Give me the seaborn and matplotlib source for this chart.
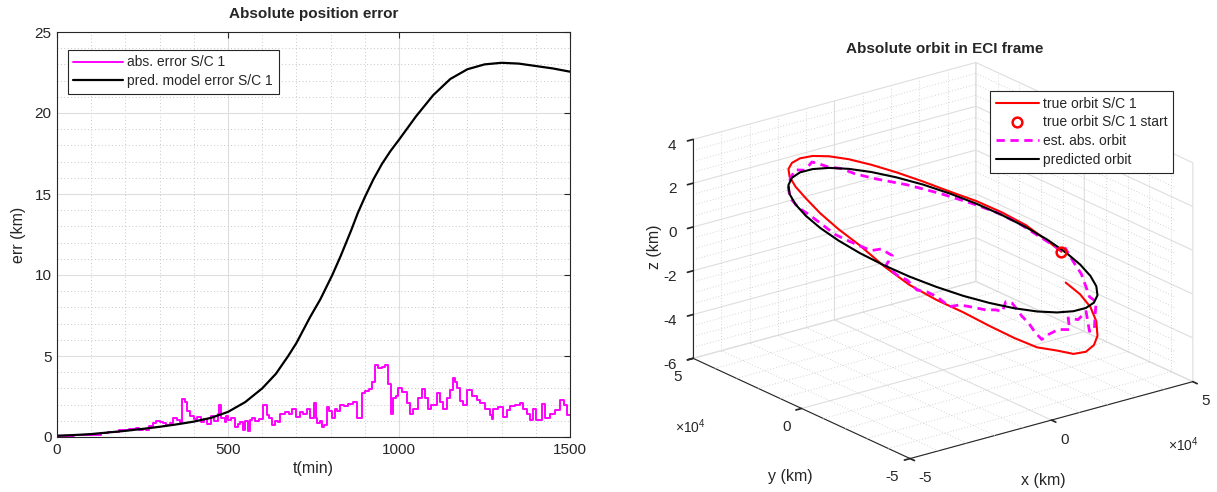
import numpy as np
import pandas as pd
import matplotlib
matplotlib.use("Agg")
import matplotlib.pyplot as plt
import seaborn as sns

# ---------------- left panel data ----------------
pred_t = [0, 50, 100, 150, 200, 250, 300, 350, 400, 450, 500, 550, 600, 640, 676,
          700, 740, 770, 805, 830, 860, 880, 900, 925, 950, 975, 1000, 1050, 1100, 1150,
          1200, 1250, 1300, 1350, 1400, 1450, 1500]
pred_err = [0.08, 0.12, 0.18, 0.28, 0.38, 0.50, 0.63, 0.78, 0.95, 1.18, 1.55, 2.15,
            3.0, 3.9, 5.0, 5.8, 7.4, 8.5, 10.0, 11.2, 12.75, 13.85, 14.8, 15.9, 16.85,
            17.65, 18.35, 19.8, 21.1, 22.1, 22.7, 23.0, 23.1, 23.05, 22.9, 22.75, 22.55]

abs_t = [0, 50, 100, 130, 150, 170, 180, 190, 200, 210, 220, 230, 240, 250, 260, 270,
         280, 290, 300, 310, 320, 330, 340, 350, 360, 365, 375, 380, 390, 400, 410,
         420, 430, 440, 450, 460, 470, 475, 480, 490, 495, 501, 510, 520, 528, 535,
         545, 550, 558, 563, 570, 580, 590, 603, 613, 620, 628, 637, 645, 652, 667,
         678, 686, 700, 710, 720, 730, 740, 750, 756, 760, 768, 774, 782, 789, 796,
         803, 813, 820, 827, 840, 852, 866, 876, 891, 901, 912, 920, 930, 940, 950,
         960, 969, 978, 983, 990, 998, 1008, 1022, 1032, 1042, 1056, 1066, 1076, 1086,
         1095, 1110, 1120, 1130, 1140, 1149, 1159, 1165, 1169, 1178, 1188, 1198, 1213,
         1227, 1237, 1251, 1266, 1271, 1276, 1290, 1305, 1315, 1325, 1339, 1354, 1364,
         1373, 1383, 1393, 1402, 1417, 1427, 1442, 1456, 1471, 1481, 1490, 1500]
abs_err = [0.05, 0.10, 0.15, 0.22, 0.28, 0.32, 0.42, 0.46, 0.44, 0.52, 0.48, 0.56, 0.45,
           0.52, 0.42, 0.66, 0.86, 0.96, 0.93, 0.84, 0.74, 0.86, 1.15, 1.05, 0.95, 2.35,
           2.15, 1.60, 1.30, 1.10, 1.22, 0.90, 1.10, 0.80, 1.30, 1.00, 1.40, 2.00, 1.20,
           0.90, 1.30, 1.05, 1.15, 0.60, 0.80, 0.95, 0.45, 1.00, 0.35, 1.05, 1.15, 1.00,
           1.10, 2.00, 1.35, 1.20, 0.75, 1.00, 0.90, 1.45, 1.55, 1.40, 1.75, 1.25, 1.55,
           1.45, 1.75, 1.15, 2.10, 1.15, 0.85, 1.00, 0.60, 0.75, 1.85, 1.60, 1.20, 1.75,
           1.60, 2.00, 1.90, 2.05, 2.15, 1.15, 2.70, 2.85, 2.95, 3.40, 4.45, 4.25, 4.35,
           4.45, 3.30, 1.45, 2.40, 2.55, 3.00, 2.80, 2.10, 1.45, 1.75, 2.40, 2.95, 2.40,
           1.75, 2.00, 2.70, 2.15, 1.75, 2.40, 2.90, 3.65, 3.40, 3.00, 2.20, 2.00, 2.90,
           2.55, 2.30, 2.10, 1.75, 1.35, 1.10, 1.75, 1.85, 1.25, 1.65, 1.90, 2.00, 2.10,
           1.75, 1.45, 1.05, 1.75, 1.05, 2.05, 1.15, 1.45, 1.65, 2.30, 2.00, 1.35, 1.35]

# ---------------- right panel data (km) ----------------
true_x = [43360, 42740, 40780, 37580, 33240, 27900, 21700, 14840, 7530, 0, -7530, -14840,
          -21700, -27900, -33240, -37580, -40780, -42740, -43400, -42740, -40780, -37580,
          -33240, -27900, -21700, -14840, -7530, 0, 7530, 14840, 21700, 27900, 33240,
          37580, 40780, 42740, 43400]
true_y = [1890, 7530, 14840, 21700, 27900, 33240, 37580, 40780, 42740, 43400, 42740, 40780,
          37580, 33240, 27900, 21700, 14840, 7530, 0, -7530, -14840, -21700, -27900,
          -33240, -37580, -40780, -42740, -43400, -42740, -40780, -37580, -33240, -27900,
          -21700, -14840, -7530, 0]
true_z = [-2.21, -1.95, -1.50, -1.12, -0.73, -0.35, 0.13, 0.64, 1.15, 1.64, 2.07, 2.43,
          2.71, 2.92, 3.07, 3.15, 3.13, 3.00, 2.68, 2.28, 1.80, 1.06, 0.33, -0.29, -0.88,
          -1.60, -2.32, -2.98, -3.42, -3.92, -4.21, -4.32, -4.33, -4.10, -3.88, -3.70,
          -3.53]

pred_x = [43400, 42740, 40780, 37580, 33240, 27900, 21700, 14840, 7530, 0, -7530, -14840,
          -21700, -27900, -33240, -37580, -40780, -42740, -43400, -42740, -40780, -37580,
          -33240, -27900, -21700, -14840, -7530, 0, 7530, 14840, 21700, 27900, 33240,
          37580, 40780, 42740, 43400]
pred_y = [0, 7530, 14840, 21700, 27900, 33240, 37580, 40780, 42740, 43400, 42740, 40780,
          37580, 33240, 27900, 21700, 14840, 7530, 0, -7530, -14840, -21700, -27900,
          -33240, -37580, -40780, -42740, -43400, -42740, -40780, -37580, -33240, -27900,
          -21700, -14840, -7530, 0]
pred_z = [-2.15, -1.90, -1.59, -1.24, -0.85, -0.44, -0.01, 0.41, 0.82, 1.20, 1.54, 1.83,
          2.07, 2.24, 2.34, 2.36, 2.32, 2.20, 2.01, 1.76, 1.45, 1.10, 0.71, 0.30, -0.13,
          -0.55, -0.96, -1.34, -1.68, -1.97, -2.21, -2.38, -2.48, -2.50, -2.46, -2.34,
          -2.15]

est_x = [43370, 42050, 39890, 37130, 32520, 25770, 17760, 8390, 1910, -2640, -7760, -11960,
         -15140, -18750, -25060, -29760, -34430, -38210, -41660, -43020, -43370, -42980,
         -41980, -39400, -38010, -36230, -37250, -35420, -33660, -31840, -29870, -27770,
         -26420, -24850, -22540, -20100, -15820, -13060, -11170, -10170, -8200, -5100,
         -2910, -630, 1680, 4170, 8030, 13100, 12320, 17170, 21840, 22960, 24130, 28320,
         29010, 37790, 41090, 41870, 42650, 43180, 43380, 43410]
est_y = [1900, 10740, 17050, 22500, 28770, 34940, 39610, 42580, 43340, 43330, 42720, 41730,
         40660, 39170, 35430, 31590, 26420, 20570, 12160, 5820, -700, -6030, -11010,
         -18190, -20950, -23900, -22240, -25130, -27400, -29510, -31510, -33340, -34430,
         -35590, -37080, -38460, -40440, -41400, -41930, -42200, -42620, -43080, -43290,
         -43390, -43360, -43190, -42650, -41400, -41620, -39870, -37490, -36820, -36080,
         -32890, -32270, -21340, -13970, -11390, -8160, -4470, -1940, 390]
est_z = [-2.15, -1.85, -1.48, -1.18, -0.86, -0.44, 0.02, 0.50, 0.92, 1.31, 1.59, 1.93,
         2.17, 1.99, 2.40, 2.35, 2.30, 2.25, 2.31, 2.35, 2.21, 1.99, 1.88, 1.67, 1.82,
         1.59, 1.10, 0.72, 0.54, 0.12, 0.06, -0.15, -0.37, -0.60, -0.54, -0.64, -0.85,
         -0.90, -1.02, -0.59, -0.71, -1.40, -1.77, -2.29, -2.68, -2.55, -2.48, -2.72,
         -2.15, -2.48, -2.38, -2.90, -3.43, -3.64, -3.10, -3.23, -3.46, -3.16, -2.73,
         -2.47, -2.22, -1.95]

xy_ticks = [-5e4, 0, 5e4]
xy_ticklabels = ["-5", "0", "5"]
z_ticks = [-6, -4, -2, 0, 2, 4]
z_ticklabels = ["-6", "-4", "-2", "0", "2", "4"]

# ---------------- style ----------------
sns.set_theme(style="white")
plt.rcParams["font.family"] = ["Liberation Sans", "DejaVu Sans"]
plt.rcParams["mathtext.fontset"] = "custom"
plt.rcParams["mathtext.rm"] = "Liberation Sans"
plt.rcParams["mathtext.it"] = "Liberation Sans:italic"
plt.rcParams["axes.unicode_minus"] = False

DARK = (0.15, 0.15, 0.15)
GRID = (0.87, 0.87, 0.87)
MINOR = (0.78, 0.78, 0.78)
MAG = (1.0, 0.0, 1.0)

fig = plt.figure(figsize=(12.17, 4.92), dpi=100)
fig.patch.set_facecolor("white")

# ---------------- left: absolute position error ----------------
ax1 = fig.add_axes([57 / 1217, 1 - 437 / 492, 513 / 1217, 405 / 492])
abs_df = pd.DataFrame({"t": abs_t, "err": abs_err})
pred_df = pd.DataFrame({"t": pred_t, "err": pred_err})
sns.lineplot(data=abs_df, x="t", y="err", ax=ax1, color=MAG, lw=1.4,
             drawstyle="steps-post", estimator=None, label="abs. error S/C 1")
sns.lineplot(data=pred_df, x="t", y="err", ax=ax1, color="black", lw=1.6,
             estimator=None, label="pred. model error S/C 1")
ax1.set_xlim(0, 1500)
ax1.set_ylim(0, 25)
ax1.set_xticks([0, 500, 1000, 1500])
ax1.set_yticks([0, 5, 10, 15, 20, 25])
ax1.set_xticks(np.arange(0, 1501, 100), minor=True)
ax1.set_yticks(np.arange(0, 26, 1), minor=True)
ax1.grid(which="major", color=GRID, lw=0.8, ls="-")
ax1.grid(which="minor", color=MINOR, lw=0.7, ls=(0, (1, 2.5)))
ax1.set_axisbelow(True)
ax1.tick_params(which="major", direction="in", top=True, right=True, length=4,
                width=0.8, color=DARK, labelcolor=DARK, labelsize=11, pad=4)
ax1.tick_params(which="minor", length=0)
for s in ax1.spines.values():
    s.set_color(DARK)
    s.set_linewidth(0.8)
ax1.set_xlabel("t(min)", fontsize=11.5, color=DARK, labelpad=3)
ax1.set_ylabel("err (km)", fontsize=11.5, color=DARK, labelpad=6)
ax1.set_title("Absolute position error", fontsize=11, fontweight="bold", pad=10)
leg1 = ax1.legend(loc="upper left", bbox_to_anchor=(0.021, 0.956), frameon=True,
                  fancybox=False, edgecolor=DARK, fontsize=10, handlelength=3.6,
                  borderaxespad=0, handletextpad=0.3, labelspacing=0.35, borderpad=0.4,
                  framealpha=1)
leg1.get_frame().set_linewidth(0.8)

# ---------------- right: orbit in 3D ----------------
ax2 = fig.add_axes([0.5723, -0.0305, 0.3944, 0.9756], projection="3d",
                   computed_zorder=False)
ax2.set_proj_type("ortho")
ax2.view_init(elev=20.76, azim=-127.5)
ax2.set_xlim(-5e4, 5e4)
ax2.set_ylim(-5e4, 5e4)
ax2.set_zlim(-6, 4)
ax2.set_box_aspect((1, 1, 0.657), zoom=1.124)
ax2.patch.set_alpha(0)

for axis in (ax2.xaxis, ax2.yaxis, ax2.zaxis):
    axis.set_pane_color((1, 1, 1, 0))
    axis.pane.set_edgecolor(GRID)
    axis.pane.set_linewidth(0.8)
    axis._axinfo["grid"].update(color=GRID, linewidth=0.8, linestyle="-")
    axis._axinfo["tick"].update(inward_factor=0.25, outward_factor=0.0)
    axis.line.set_color(DARK)
    axis.line.set_linewidth(0.8)

ax2.set_xticks(xy_ticks)
ax2.set_xticklabels(xy_ticklabels, ha="left")
ax2.set_yticks(xy_ticks)
ax2.set_yticklabels(xy_ticklabels, ha="right")
ax2.set_zticks(z_ticks)
ax2.set_zticklabels(z_ticklabels, ha="right")
ax2.tick_params(axis="x", labelcolor=DARK, labelsize=11, color=DARK, pad=-1)
ax2.tick_params(axis="y", labelcolor=DARK, labelsize=11, color=DARK, pad=-1)
ax2.tick_params(axis="z", labelcolor=DARK, labelsize=11, color=DARK, pad=-2)

# minor dotted grid on the three back walls
mxy = [v for v in np.arange(-4e4, 4.1e4, 1e4) if abs(v) > 1]
mz = [v for v in np.arange(-5.5, 4.0, 0.5) if (v % 2) != 0]
gkw = dict(color=MINOR, lw=0.6, ls=(0, (1, 2.5)), zorder=1)
for v in mxy:
    ax2.plot([v, v], [5e4, 5e4], [-6, 4], **gkw)       # wall y = +5e4
    ax2.plot([5e4, 5e4], [v, v], [-6, 4], **gkw)       # wall x = +5e4
    ax2.plot([v, v], [-5e4, 5e4], [-6, -6], **gkw)     # floor
    ax2.plot([-5e4, 5e4], [v, v], [-6, -6], **gkw)
for v in mz:
    ax2.plot([-5e4, 5e4], [5e4, 5e4], [v, v], **gkw)
    ax2.plot([5e4, 5e4], [-5e4, 5e4], [v, v], **gkw)

ax2.plot(true_x, true_y, true_z, color="red", lw=1.5, zorder=3, label="true orbit S/C 1")
ax2.plot(true_x[:1], true_y[:1], true_z[:1], ls="none", marker="o", mfc="none",
         mec="red", ms=7, mew=1.8, zorder=6, label="true orbit S/C 1 start")
ax2.plot(est_x, est_y, est_z, color=MAG, lw=2.0, ls=(0, (3, 2)), zorder=4,
         label="est. abs. orbit")
ax2.plot(pred_x, pred_y, pred_z, color="black", lw=1.5, zorder=5, label="predicted orbit")

ax2.zaxis.set_rotate_label(False)
ax2.set_zlabel("z (km)", fontsize=11.5, color=DARK, rotation=90, labelpad=-7)

leg2 = ax2.legend(loc="upper left", bbox_to_anchor=(990 / 1217, 1 - 91 / 492),
                  bbox_transform=fig.transFigure, frameon=True, fancybox=False,
                  edgecolor=DARK, fontsize=10, handlelength=3.1, borderaxespad=0,
                  handletextpad=0.3, labelspacing=0.35, borderpad=0.4, framealpha=1)
leg2.get_frame().set_linewidth(0.8)

fig.text(945 / 1217, 1 - 49 / 492, "Absolute orbit in ECI frame", ha="center",
         va="center", fontsize=11, fontweight="bold")
fig.text(1043 / 1217, 1 - 480 / 492, "x (km)", ha="center", va="center",
         fontsize=11.5, color=DARK)
fig.text(790 / 1217, 1 - 476 / 492, "y (km)", ha="center", va="center",
         fontsize=11.5, color=DARK)
fig.text(690 / 1217, 1 - 427 / 492, r"$\times10^{4}$", ha="center", va="center",
         fontsize=10, color=DARK)
fig.text(1183 / 1217, 1 - 445 / 492, r"$\times10^{4}$", ha="center", va="center",
         fontsize=10, color=DARK)

fig.savefig("out.png", dpi=100, facecolor="white")
